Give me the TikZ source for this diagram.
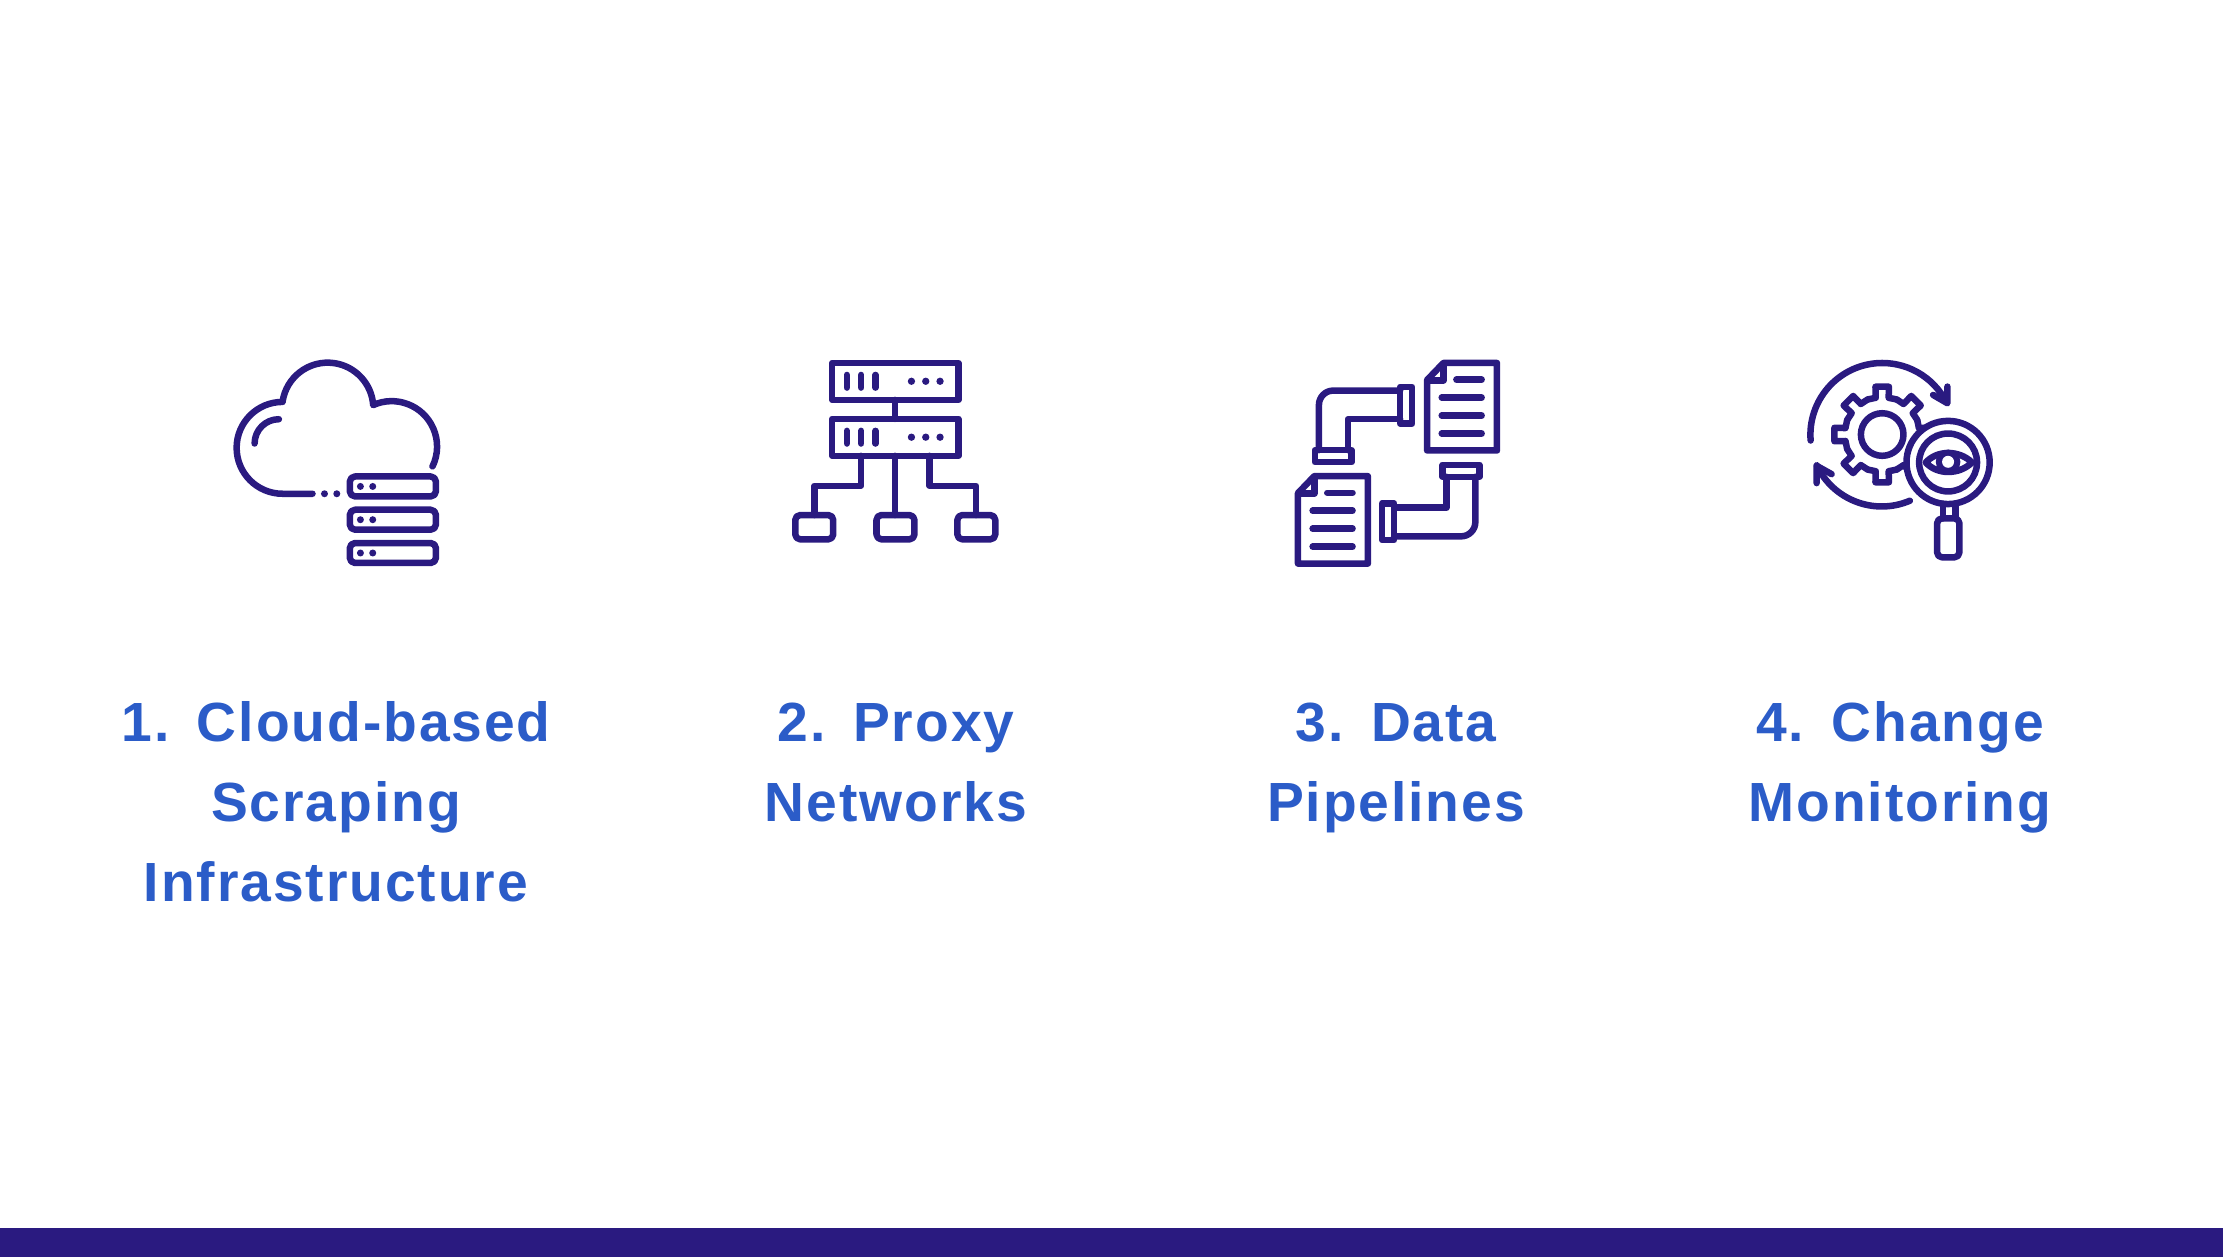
\documentclass[tikz,border=0pt]{standalone}
\usepackage{fontspec}
\setmainfont[BoldFont={Liberation Sans Bold},BoldFeatures={LetterSpace=3.5}]{Liberation Sans}
\definecolor{inkviolet}{HTML}{2A1A80}
\definecolor{labelblue}{HTML}{2B5CC8}
\tikzset{
	icon/.style={x=0.003333cm, y=-0.003333cm, draw=inkviolet, line width=1.85pt, line cap=round, line join=round},
	label/.style={text=labelblue, align=center, anchor=north, inner sep=0pt, font=\fontsize{15.7}{22.76}\selectfont\bfseries},
	dotmark/.style={fill=inkviolet, draw=none},
}
\begin{document}
\begin{tikzpicture}[x=0.01cm, y=-0.01cm]
		\useasboundingbox (0,0) rectangle (2223,1257);
		\fill[inkviolet] (0,1228) rectangle (2223,1257);

		\node [label] (cloudlabel) at (336,684.5) {\strut 1.\hspace{0.5em}Cloud-based\\Scraping\\Infrastructure};
		\node [label] (proxylabel) at (896,684.5) {\strut 2.\hspace{0.5em}Proxy\\Networks};
		\node [label] (pipelabel) at (1396,684.5) {\strut 3.\hspace{0.5em}Data\\Pipelines};
		\node [label] (monitorlabel) at (1900,684.5) {\strut 4.\hspace{0.5em}Change\\Monitoring};

		% cloud
		\begin{scope}[shift={(210,340)}, icon]
			\draw (308,462) -- (218,462) arc[start angle=90, end angle=270, radius=138]
				arc[start angle=188, end angle=356, radius=137]
				arc[start angle=246, end angle=386, radius=136.5];
			\draw (207,238) arc[start angle=270, end angle=180, radius=73];
			\fill[dotmark] (344,462) circle [radius=10.5];
			\fill[dotmark] (381,462) circle [radius=10.5];
			\foreach \y in {0,100,200} {
				\draw[rounded corners=1.5pt] (420,410+\y) rectangle (679,470+\y);
				\fill[dotmark] (452,440+\y) circle [radius=10.5];
				\fill[dotmark] (489,440+\y) circle [radius=10.5];
			}
		\end{scope}

		% proxy
		\begin{scope}[shift={(770,340)}, icon]
			\draw (376,180) -- (376,237);
			\foreach \y in {0,168} {
				\draw (187,69+\y) rectangle (566,180+\y);
				\foreach \x in {231,274,317}
					\draw (\x,105+\y) -- (\x,143+\y);
				\foreach \x in {425,468,511}
					\fill[dotmark] (\x,124+\y) circle [radius=11];
			}
			\draw (273,348) -- (273,438) -- (134,438) -- (134,526);
			\draw (376,348) -- (376,526);
			\draw (480,348) -- (480,438) -- (619,438) -- (619,526);
			\foreach \x in {76,320,563}
				\draw[rounded corners=1.4pt] (\x,526) rectangle (\x+114,599);
		\end{scope}

		% pipes
		\begin{scope}[shift={(1280,340)}, icon]
			\foreach \dx/\dy in {0/0,-388/340} {
				\begin{scope}[shift={(\dx,\dy)}]
					\draw (491,69) -- (652,69) -- (652,332) -- (442,332) -- (442,120) -- cycle;
					\draw (491,71) -- (491,121) -- (444,121);
					\draw (530,119) -- (606,119);
					\foreach \y in {173,227,281}
						\draw (486,\y) -- (606,\y);
				\end{scope}
			}
			\foreach \r in {0,180} {
				\begin{scope}[rotate around={\r:(352,371)}]
					\draw (361,141) rectangle (397,251);
					\draw (105,331) rectangle (215,367);
					\draw (361,152) -- (160,152) arc[start angle=270, end angle=180, radius=43] -- (117,331);
					\draw (361,238) -- (204,238) -- (204,331);
				\end{scope}
			}
		\end{scope}

		% monitoring
		\begin{scope}[shift={(1790,340)}, icon]
			\begin{scope}[shift={(277,284)}]
				\foreach \a in {0,45,...,315}
					\draw ({\a-22.5}:114) -- ({\a-10}:112) -- ({\a-8}:145) -- ({\a+8}:145) -- ({\a+10}:112) -- ({\a+22.5}:114);
				\draw (0,0) circle [radius=64];
			\end{scope}
			\draw (62,302) arc[start angle=175.5, end angle=333, radius=216];
			\draw (473,140) -- (473,190) -- (430,165);
			\draw (360,483) arc[start angle=67, end angle=154.7, radius=216];
			\draw (80,430) -- (80,378) -- (125,403);
			\draw[fill=white] (475,368) circle [radius=125];
			\draw (475,368) circle [radius=87];
			\draw (408,368) .. controls (442,330) and (508,330) .. (547,368)
				.. controls (508,406) and (442,406) .. (408,368);
			\fill[dotmark] (475,366) circle [radius=37];
			\fill[white] (475,366) circle [radius=18];
			\draw (460,492) -- (460,536);
			\draw (497,492) -- (497,536);
			\draw[rounded corners=1.4pt] (442,536) rectangle (509,653);
		\end{scope}
	\end{tikzpicture}
\end{document}
